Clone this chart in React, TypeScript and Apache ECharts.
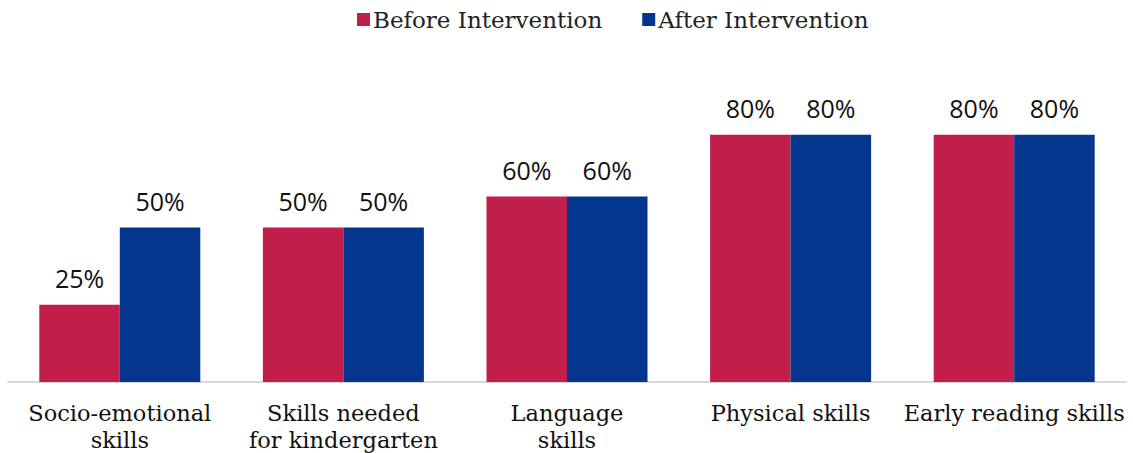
import React, { useEffect, useRef } from "react";
import * as echarts from "echarts";

const categories = [
  "Socio-emotional\nskills",
  "Skills needed\nfor kindergarten",
  "Language\nskills",
  "Physical skills",
  "Early reading skills",
];
const beforeValues = [25, 50, 60, 80, 80];
const afterValues = [50, 50, 60, 80, 80];
const seriesNames = ["Before Intervention", "After Intervention"];

const RED = "#C21E4B";
const BLUE = "#04368E";

export default function App() {
  const ref = useRef<HTMLDivElement>(null);
  useEffect(() => {
    const chart = echarts.init(ref.current!, null, { renderer: "svg" });
    const labelStyle = {
      show: true,
      position: "top" as const,
      distance: 14,
      formatter: "{c}%",
      fontFamily: "Open Sans",
      fontSize: 25,
      color: "#111",
    };
    chart.setOption({
      animation: false,
      legend: {
        top: 3,
        left: 352,
        itemWidth: 13,
        itemHeight: 13,
        itemGap: 40,
        icon: "rect",
        textStyle: { fontFamily: "DejaVu Serif", fontSize: 23, color: "#222", padding: [0, 0, 0, -2] },
        data: seriesNames,
      },
      grid: { left: 8, right: 7, top: 73, bottom: 71, containLabel: false },
      xAxis: {
        type: "category",
        data: categories,
        axisLine: { show: true, lineStyle: { color: "#D9D9D9", width: 2 } },
        axisTick: { show: false },
        axisLabel: {
          interval: 0,
          margin: 17,
          fontFamily: "DejaVu Serif",
          fontSize: 22.5,
          lineHeight: 27,
          color: "#111",
        },
      },
      yAxis: {
        type: "value",
        min: 0,
        max: 100,
        show: false,
        splitLine: { show: false },
      },
      series: [
        {
          name: seriesNames[0],
          type: "bar",
          data: beforeValues,
          itemStyle: { color: RED },
          barGap: "0%",
          barCategoryGap: "28%",
          label: labelStyle,
        },
        {
          name: seriesNames[1],
          type: "bar",
          data: afterValues,
          itemStyle: { color: BLUE },
          barGap: "0%",
          barCategoryGap: "28%",
          label: labelStyle,
        },
      ],
    });
    return () => chart.dispose();
  }, []);
  return (
    <div
      ref={ref}
      style={{ position: "absolute", left: 0, top: 0, width: 1133, height: 453, background: "#fff" }}
    />
  );
}
